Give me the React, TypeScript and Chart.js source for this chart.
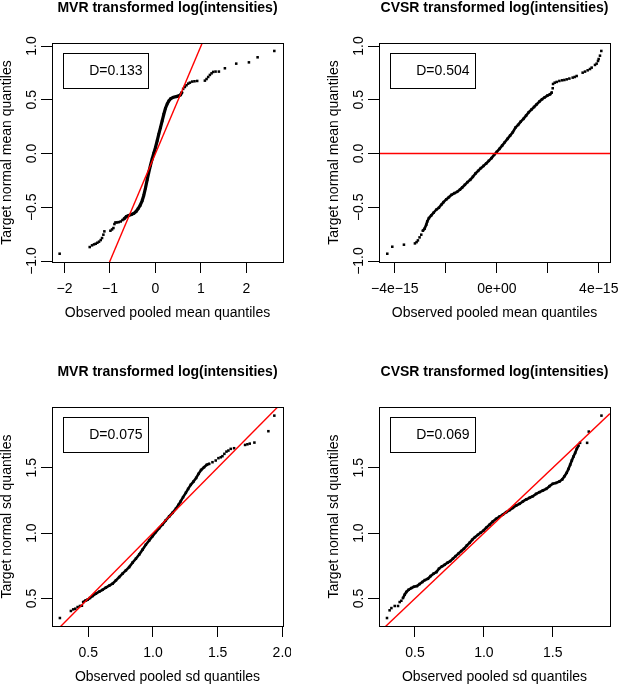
import React, { useEffect, useRef } from "react";
import { Chart, registerables } from "chart.js";

Chart.register(...registerables);

type Pt = [number, number];

// ---------------- data ----------------
const panelTitles = [
  "MVR transformed log(intensities)",
  "CVSR transformed log(intensities)",
  "MVR transformed log(intensities)",
  "CVSR transformed log(intensities)",
];
const xAxisTitles = [
  "Observed pooled mean quantiles",
  "Observed pooled mean quantiles",
  "Observed pooled sd quantiles",
  "Observed pooled sd quantiles",
];
const yAxisTitles = [
  "Target normal mean quantiles",
  "Target normal mean quantiles",
  "Target normal sd quantiles",
  "Target normal sd quantiles",
];
const dStats = ["D=0.133", "D=0.504", "D=0.075", "D=0.069"];

// reference line y = a + b * x  (abline(0, 1))
const abline = [0, 1];

// axis ranges
const xRangeMvrMean = [-2.274, 2.803];
const xRangeCvsrMean = [-4.62, 4.44]; // in units of 1e-15
const yRangeMean = [-1.009, 1.028];
const xRangeMvrSd = [0.22, 2.005];
const xRangeCvsrSd = [0.239, 1.915];
const yRangeSd = [0.29, 1.964];

// ticks
const xTicksMvrMean = [-2, -1, 0, 1, 2];
const xTickLabelsMvrMean = ["\u22122", "\u22121", "0", "1", "2"];
const xTicksCvsrMean = [-4, -2, 0, 2, 4];
const xTickLabelsCvsrMean = ["\u22124e\u221215", "", "0e+00", "", "4e\u221215"];
const yTicksMean = [-1, -0.5, 0, 0.5, 1];
const yTickLabelsMean = ["\u22121.0", "\u22120.5", "0.0", "0.5", "1.0"];
const xTicksMvrSd = [0.5, 1, 1.5, 2];
const xTickLabelsMvrSd = ["0.5", "1.0", "1.5", "2.0"];
const xTicksCvsrSd = [0.5, 1, 1.5];
const xTickLabelsCvsrSd = ["0.5", "1.0", "1.5"];
const yTicksSd = [0.5, 1, 1.5];
const yTickLabelsSd = ["0.5", "1.0", "1.5"];

// Panel 1: MVR, mean quantiles
const mvrMeanTails: Pt[] = [
  [-2.106, -0.932], [-1.445, -0.87], [-1.394, -0.854], [-1.35, -0.845], [-1.313, -0.839],
  [-1.277, -0.83], [-1.24, -0.82], [-1.203, -0.805], [-1.174, -0.786], [-1.145, -0.755],
  [-1.123, -0.724], [-0.99, -0.718], [-0.954, -0.706], [-0.924, -0.693], [-0.902, -0.656],
  [-0.88, -0.641], [-0.844, -0.641], [-0.807, -0.638], [-0.763, -0.632], [-0.726, -0.619],
  [0.609, 0.601], [0.646, 0.619], [0.682, 0.635], [0.719, 0.65], [0.756, 0.659],
  [0.807, 0.669], [0.858, 0.672], [0.917, 0.675], [1.086, 0.678], [1.123, 0.693],
  [1.159, 0.712], [1.196, 0.731], [1.233, 0.746], [1.269, 0.759], [1.321, 0.762],
  [1.394, 0.762], [1.526, 0.793], [1.775, 0.836], [2.054, 0.848], [2.245, 0.895],
  [2.612, 0.954],
];
const mvrMeanBody: Pt[] = [
  [-0.69, -0.607], [-0.638, -0.585], [-0.587, -0.576], [-0.528, -0.567], [-0.477, -0.557],
  [-0.426, -0.539], [-0.382, -0.514], [-0.337, -0.483], [-0.293, -0.44], [-0.257, -0.39],
  [-0.22, -0.322], [-0.183, -0.245], [-0.147, -0.176], [-0.11, -0.111], [-0.073, -0.05],
  [-0.037, 0.003], [0, 0.056], [0.037, 0.118], [0.073, 0.18], [0.11, 0.241],
  [0.147, 0.303], [0.183, 0.365], [0.22, 0.421], [0.257, 0.461], [0.293, 0.489],
  [0.337, 0.511], [0.389, 0.523], [0.455, 0.529], [0.514, 0.536], [0.55, 0.545],
  [0.58, 0.567],
];

// Panel 2: CVSR, mean quantiles (x in units of 1e-15)
const cvsrMeanTails: Pt[] = [
  [-4.295, -0.932], [-4.099, -0.867], [-3.642, -0.848], [-3.211, -0.836], [-3.146, -0.824],
  [-3.094, -0.808], [-3.029, -0.78], [-2.963, -0.755],
  [2.193, 0.607], [2.206, 0.647], [2.272, 0.659], [2.35, 0.666], [2.454, 0.675],
  [2.559, 0.681], [2.65, 0.684], [2.742, 0.69], [2.846, 0.697], [2.976, 0.706],
  [3.055, 0.712], [3.133, 0.721], [3.368, 0.752], [3.46, 0.762], [3.564, 0.774],
  [3.655, 0.786], [3.721, 0.799], [3.851, 0.824], [3.916, 0.836], [3.969, 0.861],
  [3.995, 0.879], [4.047, 0.91], [4.099, 0.954],
];
const cvsrMeanBody: Pt[] = [
  [-2.898, -0.718], [-2.833, -0.7], [-2.768, -0.663], [-2.728, -0.632], [-2.663, -0.601],
  [-2.572, -0.576], [-2.48, -0.551], [-2.376, -0.523], [-2.272, -0.505], [-2.18, -0.477],
  [-2.089, -0.452], [-1.984, -0.427], [-1.88, -0.406], [-1.775, -0.384], [-1.658, -0.368],
  [-1.554, -0.356], [-1.449, -0.337], [-1.358, -0.316], [-1.253, -0.291], [-1.149, -0.266],
  [-1.044, -0.245], [-0.94, -0.217], [-0.836, -0.186], [-0.731, -0.161], [-0.627, -0.136],
  [-0.522, -0.115], [-0.418, -0.093], [-0.313, -0.068], [-0.209, -0.043], [-0.104, -0.012],
  [0, 0.015], [0.104, 0.043], [0.209, 0.074], [0.313, 0.105], [0.418, 0.136],
  [0.522, 0.167], [0.627, 0.198], [0.731, 0.241], [0.836, 0.266], [0.94, 0.297],
  [1.044, 0.322], [1.149, 0.353], [1.253, 0.384], [1.358, 0.409], [1.462, 0.433],
  [1.567, 0.458], [1.671, 0.483], [1.775, 0.505], [1.88, 0.523], [1.984, 0.539],
  [2.089, 0.551], [2.154, 0.567],
];

// Panel 3: MVR, sd quantiles
const mvrSdTails: Pt[] = [
  [0.281, 0.351], [0.366, 0.405], [0.384, 0.417], [0.4, 0.422], [0.418, 0.435],
  [0.436, 0.443], [0.451, 0.445],
  [1.46, 1.542], [1.485, 1.555], [1.506, 1.573], [1.524, 1.58], [1.537, 1.588],
  [1.552, 1.606], [1.568, 1.623], [1.583, 1.631], [1.601, 1.644], [1.627, 1.649],
  [1.712, 1.674], [1.73, 1.679], [1.748, 1.684], [1.784, 1.692], [1.892, 1.779],
  [1.938, 1.898],
];
const mvrSdBody: Pt[] = [
  [0.461, 0.473], [0.477, 0.483], [0.495, 0.491], [0.513, 0.504], [0.533, 0.519],
  [0.559, 0.537], [0.585, 0.552], [0.611, 0.567], [0.636, 0.583], [0.662, 0.598],
  [0.688, 0.613], [0.714, 0.639], [0.739, 0.664], [0.765, 0.69], [0.791, 0.715],
  [0.816, 0.74], [0.842, 0.774], [0.868, 0.804], [0.894, 0.837], [0.919, 0.873],
  [0.945, 0.911], [0.971, 0.944], [0.997, 0.977], [1.022, 1.008], [1.048, 1.038],
  [1.074, 1.066], [1.099, 1.097], [1.125, 1.127], [1.151, 1.155], [1.177, 1.186],
  [1.197, 1.216], [1.215, 1.244], [1.233, 1.275], [1.254, 1.308], [1.272, 1.338],
  [1.292, 1.369], [1.313, 1.394], [1.334, 1.422], [1.352, 1.453], [1.372, 1.483],
  [1.395, 1.504], [1.416, 1.522], [1.434, 1.529],
];

// Panel 4: CVSR, sd quantiles
const cvsrSdTails: Pt[] = [
  [0.297, 0.351], [0.316, 0.41], [0.329, 0.427], [0.353, 0.443], [0.377, 0.443],
  [0.389, 0.473], [0.401, 0.483],
  [1.698, 1.69], [1.749, 1.69], [1.761, 1.776], [1.853, 1.898],
];
const cvsrSdBody: Pt[] = [
  [0.413, 0.504], [0.425, 0.529], [0.437, 0.55], [0.454, 0.567], [0.473, 0.58],
  [0.493, 0.59], [0.514, 0.595], [0.534, 0.611], [0.553, 0.626], [0.572, 0.641],
  [0.594, 0.651], [0.614, 0.672], [0.635, 0.69], [0.655, 0.702], [0.674, 0.728],
  [0.696, 0.746], [0.715, 0.758], [0.737, 0.774], [0.756, 0.786], [0.775, 0.804],
  [0.795, 0.824], [0.814, 0.842], [0.836, 0.863], [0.855, 0.88], [0.877, 0.906],
  [0.896, 0.926], [0.915, 0.949], [0.935, 0.969], [0.957, 0.987], [0.976, 1.003],
  [0.998, 1.02], [1.017, 1.041], [1.041, 1.064], [1.065, 1.089], [1.089, 1.109],
  [1.114, 1.127], [1.138, 1.142], [1.162, 1.16], [1.186, 1.176], [1.21, 1.193],
  [1.234, 1.211], [1.258, 1.224], [1.283, 1.242], [1.307, 1.257], [1.331, 1.27],
  [1.355, 1.282], [1.379, 1.3], [1.403, 1.313], [1.428, 1.326], [1.452, 1.338],
  [1.476, 1.359], [1.5, 1.377], [1.524, 1.384], [1.548, 1.394], [1.568, 1.41],
  [1.585, 1.435], [1.601, 1.461], [1.614, 1.491], [1.626, 1.522], [1.638, 1.555],
  [1.65, 1.585], [1.662, 1.613], [1.674, 1.644], [1.686, 1.669],
];

// ---------------- presentation ----------------
const FONT = "'Liberation Sans', Arial, Helvetica, sans-serif";
const CANVAS_W = 309;
const CANVAS_H = 335;
const Y_AXIS_W = 70;
const X_AXIS_H = 62;
const TICK_LEN = 11;

type PanelCfg = {
  title: string;
  xTitle: string;
  yTitle: string;
  legend: string;
  xRange: number[];
  yRange: number[];
  xTicks: number[];
  xTickLabels: string[];
  yTicks: number[];
  yTickLabels: string[];
  body: Pt[];
  tails: Pt[];
  xUnit: number;
  bodyWidth: number;
};

const panels: PanelCfg[] = [
  {
    title: panelTitles[0], xTitle: xAxisTitles[0], yTitle: yAxisTitles[0], legend: dStats[0],
    xRange: xRangeMvrMean, yRange: yRangeMean, xTicks: xTicksMvrMean, xTickLabels: xTickLabelsMvrMean,
    yTicks: yTicksMean, yTickLabels: yTickLabelsMean, body: mvrMeanBody, tails: mvrMeanTails, xUnit: 1, bodyWidth: 3.2,
  },
  {
    title: panelTitles[1], xTitle: xAxisTitles[1], yTitle: yAxisTitles[1], legend: dStats[1],
    xRange: xRangeCvsrMean, yRange: yRangeMean, xTicks: xTicksCvsrMean, xTickLabels: xTickLabelsCvsrMean,
    yTicks: yTicksMean, yTickLabels: yTickLabelsMean, body: cvsrMeanBody, tails: cvsrMeanTails, xUnit: 1e-15, bodyWidth: 2.6,
  },
  {
    title: panelTitles[2], xTitle: xAxisTitles[2], yTitle: yAxisTitles[2], legend: dStats[2],
    xRange: xRangeMvrSd, yRange: yRangeSd, xTicks: xTicksMvrSd, xTickLabels: xTickLabelsMvrSd,
    yTicks: yTicksSd, yTickLabels: yTickLabelsSd, body: mvrSdBody, tails: mvrSdTails, xUnit: 1, bodyWidth: 2.6,
  },
  {
    title: panelTitles[3], xTitle: xAxisTitles[3], yTitle: yAxisTitles[3], legend: dStats[3],
    xRange: xRangeCvsrSd, yRange: yRangeSd, xTicks: xTicksCvsrSd, xTickLabels: xTickLabelsCvsrSd,
    yTicks: yTicksSd, yTickLabels: yTickLabelsSd, body: cvsrSdBody, tails: cvsrSdTails, xUnit: 1, bodyWidth: 2.6,
  },
];

const placements = [
  { left: -18, top: -7 },
  { left: 309, top: -7 },
  { left: -18, top: 357 },
  { left: 309, top: 357 },
];

function measureWidest(labels: string[]): number {
  const c = document.createElement("canvas").getContext("2d");
  if (!c) return 20;
  c.font = `14px ${FONT}`;
  return Math.max(...labels.map((l) => c.measureText(l).width));
}

const frameLegendPlugin = {
  id: "frameLegend",
  afterDraw(chart: any, _args: any, opts: any) {
    const { ctx, chartArea: a } = chart;
    ctx.save();
    ctx.strokeStyle = "#000";
    ctx.lineWidth = 1;
    const l = Math.round(a.left) + 0.5;
    const t = Math.round(a.top) + 0.5;
    const r = Math.round(a.right) + 0.5;
    const b = Math.round(a.bottom) + 0.5;
    ctx.strokeRect(l, t, r - l, b - t);
    // legend box (topleft)
    const lx = l + 11;
    const ly = t + 10;
    const lw = 85;
    const lh = 35;
    ctx.strokeRect(lx, ly, lw, lh);
    ctx.fillStyle = "#000";
    ctx.font = `14px ${FONT}`;
    ctx.textAlign = "right";
    ctx.textBaseline = "middle";
    ctx.fillText(opts.text, lx + lw - 6, ly + lh / 2 + 0.5);
    ctx.restore();
  },
};

function Panel({ cfg, left, top }: { cfg: PanelCfg; left: number; top: number }) {
  const ref = useRef<HTMLCanvasElement | null>(null);

  useEffect(() => {
    if (!ref.current) return;
    const widest = measureWidest(cfg.yTickLabels);
    const yPad = Y_AXIS_W - 50.5 - TICK_LEN - widest / 2;
    const refLine = cfg.xRange.map((x) => ({ x, y: abline[0] + abline[1] * x * cfg.xUnit }));
    const toXY = (p: Pt) => ({ x: p[0], y: p[1] });

    const chart = new Chart(ref.current, {
      type: "scatter",
      data: {
        datasets: [
          {
            data: refLine,
            showLine: true,
            borderColor: "#FF0000",
            backgroundColor: "#FF0000",
            borderWidth: 1.4,
            pointRadius: 0,
            fill: false,
            order: 0,
          } as any,
          {
            data: cfg.body.map(toXY),
            showLine: true,
            borderColor: "#000",
            borderWidth: cfg.bodyWidth,
            borderJoinStyle: "round",
            borderCapStyle: "round",
            pointStyle: "rect",
            pointRadius: 1.8,
            pointBorderWidth: 0,
            pointBackgroundColor: "#000",
            fill: false,
            order: 1,
          } as any,
          {
            data: cfg.tails.map(toXY),
            showLine: false,
            pointStyle: "rect",
            pointRadius: 1.8,
            pointBorderWidth: 0,
            pointBackgroundColor: "#000",
            order: 2,
          } as any,
        ],
      },
      options: {
        animation: false,
        responsive: false,
        devicePixelRatio: 1,
        events: [],
        layout: { padding: { left: 0, top: 0, right: 8, bottom: 4 } },
        plugins: {
          legend: { display: false },
          tooltip: { enabled: false },
          title: {
            display: true,
            text: cfg.title,
            fullSize: false,
            color: "#000",
            font: { family: FONT, size: 14, weight: "bold" },
            padding: { top: 7.1, bottom: 26.1 },
          },
          frameLegend: { text: cfg.legend },
        } as any,
        scales: {
          x: {
            type: "linear",
            position: "bottom",
            min: cfg.xRange[0],
            max: cfg.xRange[1],
            afterBuildTicks: (s: any) => {
              s.ticks = cfg.xTicks.map((v) => ({ value: v }));
            },
            afterFit: (s: any) => {
              s.height = X_AXIS_H;
              s.paddingLeft = 0;
              s.paddingRight = 0;
            },
            ticks: {
              autoSkip: false,
              minRotation: 0,
              maxRotation: 0,
              padding: 7.6,
              color: "#000",
              font: { family: FONT, size: 14 },
              callback: (_v: any, i: number) => cfg.xTickLabels[i],
            },
            grid: {
              display: true,
              drawOnChartArea: false,
              drawTicks: true,
              tickLength: TICK_LEN,
              color: "#000",
              lineWidth: 1,
            },
            border: { display: true, color: "#000", width: 1 },
            title: {
              display: true,
              text: cfg.xTitle,
              color: "#000",
              font: { family: FONT, size: 14 },
              padding: { top: 0, bottom: 2.6 },
            },
          },
          y: {
            type: "linear",
            position: "left",
            min: cfg.yRange[0],
            max: cfg.yRange[1],
            afterBuildTicks: (s: any) => {
              s.ticks = cfg.yTicks.map((v) => ({ value: v }));
            },
            afterFit: (s: any) => {
              s.width = Y_AXIS_W;
              s.paddingTop = 0;
              s.paddingBottom = 0;
            },
            ticks: {
              autoSkip: false,
              minRotation: 90,
              maxRotation: 90,
              crossAlign: "center",
              padding: yPad,
              color: "#000",
              font: { family: FONT, size: 14 },
              callback: (_v: any, i: number) => cfg.yTickLabels[i],
            },
            grid: {
              display: true,
              drawOnChartArea: false,
              drawTicks: true,
              tickLength: TICK_LEN,
              color: "#000",
              lineWidth: 1,
            },
            border: { display: true, color: "#000", width: 1 },
            title: {
              display: true,
              text: cfg.yTitle,
              color: "#000",
              font: { family: FONT, size: 14 },
              padding: { top: 16.6, bottom: 0 },
            },
          },
        },
      } as any,
      plugins: [frameLegendPlugin as any],
    });
    return () => chart.destroy();
  }, [cfg]);

  return (
    <canvas
      ref={ref}
      width={CANVAS_W}
      height={CANVAS_H}
      style={{ position: "absolute", left, top, width: CANVAS_W, height: CANVAS_H }}
    />
  );
}

export default function App() {
  return (
    <div
      style={{
        position: "fixed",
        left: 0,
        top: 0,
        width: 618,
        height: 685,
        overflow: "hidden",
        background: "#fff",
      }}
    >
      {panels.map((cfg, i) => (
        <Panel key={i} cfg={cfg} left={placements[i].left} top={placements[i].top} />
      ))}
    </div>
  );
}
